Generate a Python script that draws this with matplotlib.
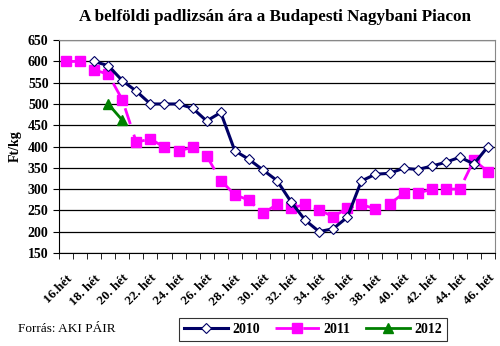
import matplotlib.pyplot as plt
import numpy as np

# heti átlagárak (Ft/kg), 16.-46. hét
weeks = list(range(16, 47))
week_labels = ["16.hét"] + [f"{w}. hét" for w in weeks[1:]]

price_2010 = [None, None, 600, 590, 555, 530, 500, 500, 500, 490, 460, 480,
              390, 370, 345, 320, 270, 227, 200, 207, 234, 319, 335, 337,
              349, 346, 354, 363, 375, 359, 400]
price_2011 = [600, 600, 580, 570, 510, 410, 418, 398, 390, 398, 378, 320,
              287, 274, 243, 264, 255, 264, 251, 235, 255, 264, 253, 265,
              290, 290, 300, 300, 300, 368, 341]
price_2012 = [None, None, None, 500, 462] + [None] * 26

SERIF = ['Liberation Serif', 'DejaVu Serif']
plt.rcParams['font.family'] = SERIF


def to_arr(vals):
    return np.array([np.nan if v is None else v for v in vals], dtype=float)


x = np.arange(len(weeks))

fig = plt.figure(figsize=(5, 3.46), dpi=100)
ax = fig.add_axes([0.118, 0.269, 0.872, 0.615])

ax.plot(x, to_arr(price_2010), color='#000066', linewidth=2.2, marker='D',
        markersize=5, markerfacecolor='white', markeredgecolor='#000066',
        markeredgewidth=0.8, label='2010', zorder=4)
ax.plot(x, to_arr(price_2011), color='#ff00ff', linewidth=2.0,
        linestyle=(0, (6, 4)), marker='s', markersize=7,
        markerfacecolor='#ff00ff', markeredgecolor='#ff00ff',
        label='2011', zorder=3)
ax.plot(x, to_arr(price_2012), color='#008000', linewidth=2.0, marker='^',
        markersize=7, label='2012', zorder=5)

ax.set_ylim(150, 650)
ax.set_yticks(range(150, 651, 50))
ax.set_xlim(-0.5, len(weeks) - 0.5)
ax.grid(axis='y', color='black', linewidth=0.9)
ax.set_axisbelow(True)

# feliratok minden második héten, osztásjelek a kategóriahatárokon
ax.set_xticks(x[::2])
ax.set_xticklabels(week_labels[::2], rotation=45, ha='right',
                   rotation_mode='anchor', fontweight='bold', fontsize=9.5)
ax.tick_params(axis='x', which='major', length=0, pad=14)
ax.set_xticks(np.arange(-0.5, len(weeks), 1), minor=True)
ax.tick_params(axis='x', which='minor', length=4, direction='out', color='black')
ax.tick_params(axis='y', length=4, direction='out', labelsize=10)
for lbl in ax.get_yticklabels():
    lbl.set_fontweight('bold')

for side in ['top', 'right']:
    ax.spines[side].set_color('#888888')
for side in ['left', 'bottom']:
    ax.spines[side].set_color('black')

ax.set_ylabel('Ft/kg', fontweight='bold', fontsize=10, labelpad=4)

fig.text(0.55, 0.951, 'A belföldi padlizsán ára a Budapesti Nagybani Piacon',
         ha='center', va='center', fontsize=12.3, fontweight='bold')
fig.text(0.036, 0.048, 'Forrás: AKI PÁIR', ha='left', va='center', fontsize=9.5)

leg = fig.legend(loc='center', bbox_to_anchor=(0.626, 0.048), ncol=3,
                 frameon=True, fancybox=False, edgecolor='black',
                 handlelength=3.2, columnspacing=1.1, handletextpad=0.3,
                 borderpad=0.35, prop={'family': SERIF, 'weight': 'bold', 'size': 10})
leg.get_frame().set_linewidth(0.8)

fig.savefig('out.png', dpi=100)
